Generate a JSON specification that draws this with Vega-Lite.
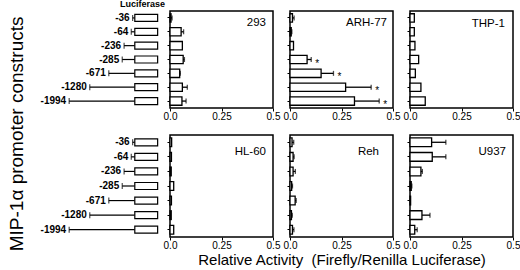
{
  "$schema": "https://vega.github.io/schema/vega-lite/v6.json",
  "padding": {"left": 7, "top": 0, "right": 5, "bottom": 2},
  "background": "white",
  "config": {
    "font": "Liberation Sans",
    "view": {"stroke": "black", "strokeWidth": 1.5},
    "axis": {"labelFontSize": 10, "labelColor": "black", "tickColor": "black", "domain": false, "labelFont": "Liberation Sans", "titleFont": "Liberation Sans", "titleColor": "black"},
    "title": {"font": "Liberation Sans", "color": "black", "fontWeight": "normal"}
  },
  "datasets": {
    "constructs": [
      {"construct": "-36", "start": -36},
      {"construct": "-64", "start": -64},
      {"construct": "-236", "start": -236},
      {"construct": "-285", "start": -285},
      {"construct": "-671", "start": -671},
      {"construct": "-1280", "start": -1280},
      {"construct": "-1994", "start": -1994}
    ],
    "bars": [
      {"cell": "293", "construct": "-36", "value": 0.005, "err": 0.01},
      {"cell": "293", "construct": "-64", "value": 0.054, "err": 0.066},
      {"cell": "293", "construct": "-236", "value": 0.06, "err": null},
      {"cell": "293", "construct": "-285", "value": 0.064, "err": 0.07},
      {"cell": "293", "construct": "-671", "value": 0.047, "err": 0.05},
      {"cell": "293", "construct": "-1280", "value": 0.06, "err": 0.084},
      {"cell": "293", "construct": "-1994", "value": 0.058, "err": 0.078},
      {"cell": "ARH-77", "construct": "-36", "value": 0.012, "err": 0.02},
      {"cell": "ARH-77", "construct": "-64", "value": 0.006, "err": 0.009},
      {"cell": "ARH-77", "construct": "-236", "value": 0.017, "err": null},
      {"cell": "ARH-77", "construct": "-285", "value": 0.083, "err": 0.103, "sig": "*"},
      {"cell": "ARH-77", "construct": "-671", "value": 0.151, "err": 0.211, "sig": "*"},
      {"cell": "ARH-77", "construct": "-1280", "value": 0.27, "err": 0.394, "sig": "*"},
      {"cell": "ARH-77", "construct": "-1994", "value": 0.313, "err": 0.433, "sig": "*"},
      {"cell": "THP-1", "construct": "-36", "value": 0.021, "err": null},
      {"cell": "THP-1", "construct": "-64", "value": 0.021, "err": null},
      {"cell": "THP-1", "construct": "-236", "value": 0.024, "err": null},
      {"cell": "THP-1", "construct": "-285", "value": 0.042, "err": null},
      {"cell": "THP-1", "construct": "-671", "value": 0.026, "err": null},
      {"cell": "THP-1", "construct": "-1280", "value": 0.053, "err": null},
      {"cell": "THP-1", "construct": "-1994", "value": 0.074, "err": null},
      {"cell": "HL-60", "construct": "-36", "value": 0.008, "err": null},
      {"cell": "HL-60", "construct": "-64", "value": 0.007, "err": null},
      {"cell": "HL-60", "construct": "-236", "value": 0.006, "err": null},
      {"cell": "HL-60", "construct": "-285", "value": 0.018, "err": null},
      {"cell": "HL-60", "construct": "-671", "value": 0.007, "err": null},
      {"cell": "HL-60", "construct": "-1280", "value": 0.006, "err": null},
      {"cell": "HL-60", "construct": "-1994", "value": 0.018, "err": null},
      {"cell": "Reh", "construct": "-36", "value": 0.01, "err": 0.018},
      {"cell": "Reh", "construct": "-64", "value": 0.015, "err": 0.02},
      {"cell": "Reh", "construct": "-236", "value": 0.015, "err": 0.026},
      {"cell": "Reh", "construct": "-285", "value": 0.008, "err": 0.012},
      {"cell": "Reh", "construct": "-671", "value": 0.025, "err": 0.03},
      {"cell": "Reh", "construct": "-1280", "value": 0.007, "err": 0.011},
      {"cell": "Reh", "construct": "-1994", "value": 0.012, "err": 0.019},
      {"cell": "U937", "construct": "-36", "value": 0.105, "err": 0.174},
      {"cell": "U937", "construct": "-64", "value": 0.108, "err": 0.174},
      {"cell": "U937", "construct": "-236", "value": 0.053, "err": 0.06},
      {"cell": "U937", "construct": "-285", "value": 0.006, "err": 0.009},
      {"cell": "U937", "construct": "-671", "value": 0.003, "err": null},
      {"cell": "U937", "construct": "-1280", "value": 0.058, "err": 0.097},
      {"cell": "U937", "construct": "-1994", "value": 0.023, "err": 0.035}
    ]
  },
  "title": {"text": "MIP-1α promoter constructs", "orient": "left", "anchor": "middle", "fontSize": 19, "offset": 14},
  "spacing": 12,
  "vconcat": [
    {
      "spacing": -3,
      "hconcat": [
        {
          "width": 96, "height": 97,
          "data": {"name": "constructs"},
          "title": {"text": "Luciferase", "anchor": "end", "frame": "group", "fontSize": 9, "fontWeight": "bold", "offset": 2},
          "view": {"stroke": null},
          "encoding": {"y": {"field": "construct", "type": "nominal", "sort": ["-36", "-64", "-236", "-285", "-671", "-1280", "-1994"], "axis": null, "scale": {"paddingInner": 0.4, "paddingOuter": 0.2}}},
          "layer": [
            {"mark": {"type": "rule", "color": "black", "strokeWidth": 1.2}, "encoding": {"x": {"field": "start", "type": "quantitative", "scale": {"type": "pow", "exponent": 0.85, "domain": [-2000, 787]}, "axis": null}, "x2": {"datum": 0}}},
            {"mark": {"type": "tick", "orient": "vertical", "color": "black", "size": 6, "thickness": 1.2}, "encoding": {"x": {"field": "start", "type": "quantitative"}}},
            {"mark": {"type": "bar", "fill": "white", "stroke": "black", "strokeWidth": 1.2, "height": 7}, "encoding": {"x": {"datum": 0, "type": "quantitative"}, "x2": {"datum": 576}}},
            {"mark": {"type": "text", "align": "right", "dx": -3, "fontSize": 10, "fontWeight": "bold", "baseline": "middle", "color": "black"}, "encoding": {"x": {"field": "start", "type": "quantitative"}, "text": {"field": "construct"}}}
          ]
        },
        {
          "spacing": 17,
          "bounds": "flush",
          "data": {"name": "bars"},
          "hconcat": [
            {
              "width": 103, "height": 97,
              "title": {"text": "293", "anchor": "end", "frame": "group", "fontSize": 11.5, "offset": -17, "dx": -7},
              "transform": [{"filter": "datum.cell === '293'"}],
              "encoding": {"y": {"field": "construct", "type": "nominal", "sort": ["-36", "-64", "-236", "-285", "-671", "-1280", "-1994"], "scale": {"paddingInner": 0.4, "paddingOuter": 0.2}, "axis": {"labels": false, "title": null, "tickSize": 3}}},
              "layer": [
                {"mark": {"type": "bar", "fill": "white", "stroke": "black", "strokeWidth": 1.3}, "encoding": {"x": {"field": "value", "type": "quantitative", "scale": {"domain": [0, 0.5]}, "axis": {"values": [0, 0.25, 0.5], "labelExpr": "datum.value === 0 ? '0.0' : datum.value === 0.25 ? '0.25' : '0.5'", "title": null, "tickSize": 3, "labelPadding": 0, "labelFlush": false, "grid": false}}}},
                {"transform": [{"filter": "isValid(datum.err)"}], "mark": {"type": "rule", "color": "black", "strokeWidth": 1.3}, "encoding": {"x": {"field": "value", "type": "quantitative"}, "x2": {"field": "err"}}},
                {"transform": [{"filter": "isValid(datum.err)"}], "mark": {"type": "tick", "orient": "vertical", "color": "black", "size": 5, "thickness": 1.3}, "encoding": {"x": {"field": "err", "type": "quantitative"}}}
              ]
            },
            {
              "width": 103, "height": 97,
              "title": {"text": "ARH-77", "anchor": "end", "frame": "group", "fontSize": 11.5, "offset": -17, "dx": -6},
              "transform": [{"filter": "datum.cell === 'ARH-77'"}],
              "encoding": {"y": {"field": "construct", "type": "nominal", "sort": ["-36", "-64", "-236", "-285", "-671", "-1280", "-1994"], "scale": {"paddingInner": 0.4, "paddingOuter": 0.2}, "axis": {"labels": false, "title": null, "tickSize": 3}}},
              "layer": [
                {"mark": {"type": "bar", "fill": "white", "stroke": "black", "strokeWidth": 1.3}, "encoding": {"x": {"field": "value", "type": "quantitative", "scale": {"domain": [0, 0.5]}, "axis": {"values": [0, 0.25, 0.5], "labelExpr": "datum.value === 0 ? '0.0' : datum.value === 0.25 ? '0.25' : '0.5'", "title": null, "tickSize": 3, "labelPadding": 0, "labelFlush": false, "grid": false}}}},
                {"transform": [{"filter": "isValid(datum.err)"}], "mark": {"type": "rule", "color": "black", "strokeWidth": 1.3}, "encoding": {"x": {"field": "value", "type": "quantitative"}, "x2": {"field": "err"}}},
                {"transform": [{"filter": "isValid(datum.err)"}], "mark": {"type": "tick", "orient": "vertical", "color": "black", "size": 5, "thickness": 1.3}, "encoding": {"x": {"field": "err", "type": "quantitative"}}},
                {"transform": [{"filter": "isValid(datum.sig)"}], "mark": {"type": "text", "color": "black", "fontSize": 10, "dx": 6, "dy": 4, "baseline": "middle", "align": "center"}, "encoding": {"x": {"field": "err", "type": "quantitative"}, "text": {"field": "sig"}}}
              ]
            },
            {
              "width": 103, "height": 97,
              "title": {"text": "THP-1", "anchor": "end", "frame": "group", "fontSize": 11.5, "offset": -18, "dx": -8},
              "transform": [{"filter": "datum.cell === 'THP-1'"}],
              "encoding": {"y": {"field": "construct", "type": "nominal", "sort": ["-36", "-64", "-236", "-285", "-671", "-1280", "-1994"], "scale": {"paddingInner": 0.4, "paddingOuter": 0.2}, "axis": {"labels": false, "title": null, "tickSize": 3}}},
              "layer": [
                {"mark": {"type": "bar", "fill": "white", "stroke": "black", "strokeWidth": 1.3}, "encoding": {"x": {"field": "value", "type": "quantitative", "scale": {"domain": [0, 0.5]}, "axis": {"values": [0, 0.25, 0.5], "labelExpr": "datum.value === 0 ? '0.0' : datum.value === 0.25 ? '0.25' : '0.5'", "title": null, "tickSize": 3, "labelPadding": 0, "labelFlush": false, "grid": false}}}}
              ]
            }
          ]
        }
      ]
    },
    {
      "spacing": -3,
      "hconcat": [
        {
          "width": 96, "height": 102,
          "data": {"name": "constructs"},
          "view": {"stroke": null},
          "encoding": {"y": {"field": "construct", "type": "nominal", "sort": ["-36", "-64", "-236", "-285", "-671", "-1280", "-1994"], "axis": null, "scale": {"paddingInner": 0.4, "paddingOuter": 0.2}}},
          "layer": [
            {"mark": {"type": "rule", "color": "black", "strokeWidth": 1.2}, "encoding": {"x": {"field": "start", "type": "quantitative", "scale": {"type": "pow", "exponent": 0.85, "domain": [-2000, 787]}, "axis": null}, "x2": {"datum": 0}}},
            {"mark": {"type": "tick", "orient": "vertical", "color": "black", "size": 6, "thickness": 1.2}, "encoding": {"x": {"field": "start", "type": "quantitative"}}},
            {"mark": {"type": "bar", "fill": "white", "stroke": "black", "strokeWidth": 1.2, "height": 7}, "encoding": {"x": {"datum": 0, "type": "quantitative"}, "x2": {"datum": 576}}},
            {"mark": {"type": "text", "align": "right", "dx": -3, "fontSize": 10, "fontWeight": "bold", "baseline": "middle", "color": "black"}, "encoding": {"x": {"field": "start", "type": "quantitative"}, "text": {"field": "construct"}}}
          ]
        },
        {
          "spacing": 17,
          "bounds": "flush",
          "data": {"name": "bars"},
          "hconcat": [
            {
              "width": 103, "height": 102,
              "title": {"text": "HL-60", "anchor": "end", "frame": "group", "fontSize": 11.5, "offset": -22, "dx": -7},
              "transform": [{"filter": "datum.cell === 'HL-60'"}],
              "encoding": {"y": {"field": "construct", "type": "nominal", "sort": ["-36", "-64", "-236", "-285", "-671", "-1280", "-1994"], "scale": {"paddingInner": 0.4, "paddingOuter": 0.2}, "axis": {"labels": false, "title": null, "tickSize": 3}}},
              "layer": [
                {"mark": {"type": "bar", "fill": "white", "stroke": "black", "strokeWidth": 1.3}, "encoding": {"x": {"field": "value", "type": "quantitative", "scale": {"domain": [0, 0.5]}, "axis": {"values": [0, 0.25, 0.5], "labelExpr": "datum.value === 0 ? '0.0' : datum.value === 0.25 ? '0.25' : '0.5'", "title": null, "tickSize": 3, "labelPadding": 0, "labelFlush": false, "grid": false}}}}
              ]
            },
            {
              "width": 103, "height": 102,
              "title": {"text": "Reh", "anchor": "end", "frame": "group", "fontSize": 11.5, "offset": -22, "dx": -14},
              "transform": [{"filter": "datum.cell === 'Reh'"}],
              "encoding": {"y": {"field": "construct", "type": "nominal", "sort": ["-36", "-64", "-236", "-285", "-671", "-1280", "-1994"], "scale": {"paddingInner": 0.4, "paddingOuter": 0.2}, "axis": {"labels": false, "title": null, "tickSize": 3}}},
              "layer": [
                {"mark": {"type": "bar", "fill": "white", "stroke": "black", "strokeWidth": 1.3}, "encoding": {"x": {"field": "value", "type": "quantitative", "scale": {"domain": [0, 0.5]}, "axis": {"values": [0, 0.25, 0.5], "labelExpr": "datum.value === 0 ? '0.0' : datum.value === 0.25 ? '0.25' : '0.5'", "title": "Relative Activity\u00a0 (Firefly/Renilla Luciferase)", "titleFontSize": 15, "titleFontWeight": "normal", "titlePadding": 2, "tickSize": 3, "labelPadding": 0, "labelFlush": false, "grid": false}}}},
                {"transform": [{"filter": "isValid(datum.err)"}], "mark": {"type": "rule", "color": "black", "strokeWidth": 1.3}, "encoding": {"x": {"field": "value", "type": "quantitative"}, "x2": {"field": "err"}}},
                {"transform": [{"filter": "isValid(datum.err)"}], "mark": {"type": "tick", "orient": "vertical", "color": "black", "size": 5, "thickness": 1.3}, "encoding": {"x": {"field": "err", "type": "quantitative"}}}
              ]
            },
            {
              "width": 103, "height": 102,
              "title": {"text": "U937", "anchor": "end", "frame": "group", "fontSize": 11.5, "offset": -22, "dx": -7},
              "transform": [{"filter": "datum.cell === 'U937'"}],
              "encoding": {"y": {"field": "construct", "type": "nominal", "sort": ["-36", "-64", "-236", "-285", "-671", "-1280", "-1994"], "scale": {"paddingInner": 0.4, "paddingOuter": 0.2}, "axis": {"labels": false, "title": null, "tickSize": 3}}},
              "layer": [
                {"mark": {"type": "bar", "fill": "white", "stroke": "black", "strokeWidth": 1.3}, "encoding": {"x": {"field": "value", "type": "quantitative", "scale": {"domain": [0, 0.5]}, "axis": {"values": [0, 0.25, 0.5], "labelExpr": "datum.value === 0 ? '0.0' : datum.value === 0.25 ? '0.25' : '0.5'", "title": null, "tickSize": 3, "labelPadding": 0, "labelFlush": false, "grid": false}}}},
                {"transform": [{"filter": "isValid(datum.err)"}], "mark": {"type": "rule", "color": "black", "strokeWidth": 1.3}, "encoding": {"x": {"field": "value", "type": "quantitative"}, "x2": {"field": "err"}}},
                {"transform": [{"filter": "isValid(datum.err)"}], "mark": {"type": "tick", "orient": "vertical", "color": "black", "size": 5, "thickness": 1.3}, "encoding": {"x": {"field": "err", "type": "quantitative"}}}
              ]
            }
          ]
        }
      ]
    }
  ]
}
